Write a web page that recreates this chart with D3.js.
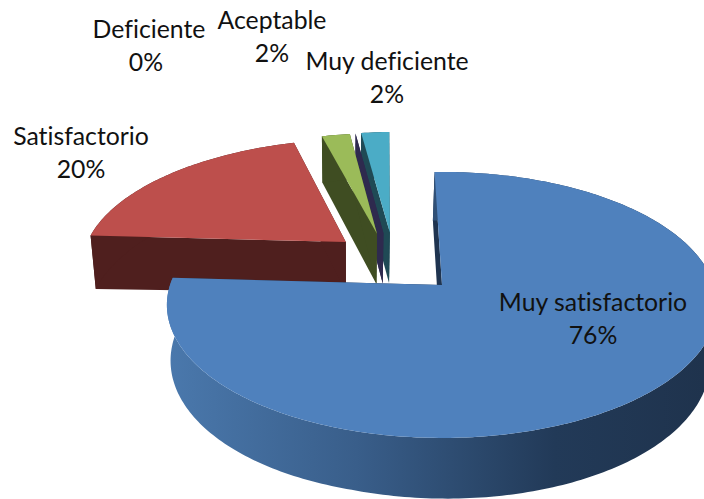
<!DOCTYPE html>
<html>
<head>
<meta charset="utf-8">
<script src="https://cdn.jsdelivr.net/npm/d3@7"></script>
<style>
html,body{margin:0;padding:0;background:#fff;overflow:hidden}
svg{display:block}
text{font-family:Lato,"Open Sans",sans-serif;font-size:24.8px;fill:#111;text-anchor:middle;font-variant-ligatures:none}
</style>
</head>
<body>
<svg id="chart" width="704" height="499"></svg>
<script>
// Data
const categories = ["Muy satisfactorio", "Satisfactorio", "Aceptable", "Deficiente", "Muy deficiente"];
const values = [76.4, 19.6, 2, 0, 2];

// Style and layout
const topColors = ["#4f81bd", "#bd4f4c", "#9bbb59", "#2e2a4e", "#4bacc6"];
const wallColors = ["url(#rim)", "#4f1f1e", "#3f4d22", "#2e2a4e", "#1f4a55"];
const radialWallColors = ["#1f3450", "#4f1f1e", "#3f4d22", "#2e2a4e", "#1f4a55"];
const explodeU = [0, -0.372, -0.254, -0.229, -0.204];
const explodeV = [0, -0.348, -0.42, -0.425, -0.43];
const labelX = [593, 81, 272, 149, 387];
const labelY = [311, 145, 29, 38, 70];
const labelPctX = [593, 81, 272, 146, 387];
const lineGap = 33;
const drawOrder = [4, 3, 2, 1, 0];

const cx = 442, cy = 285, rx = 272, ry = 130, k = 0.15;
const vanishX = 350, shrink = 0.98;
const deg = Math.PI / 180;

const svg = d3.select("#chart");
const grad = svg.append("defs").append("linearGradient")
  .attr("id", "rim").attr("gradientUnits", "userSpaceOnUse")
  .attr("x1", 170).attr("x2", 704).attr("y1", 0).attr("y2", 0);
[[0, "#4a78ac"], [0.35, "#395e8a"], [0.72, "#223a58"], [1, "#1f334d"]].forEach(s =>
  grad.append("stop").attr("offset", s[0]).attr("stop-color", s[1]));

const pie = d3.pie().sort(null).value(d => d)
  .startAngle(-1.8 * deg).endAngle(358.2 * deg);
const arcs = pie(values);

// Ground-plane point -> screen, with perspective
const xScale = d3.scaleLinear().domain([0, 1]).range([cx, cx + rx]);
const yScale = d3.scaleLinear().domain([0, 1]).range([cy, cy + ry]);
function project(u, v) {
  const w = 1 - k * v;
  return [xScale(u / w), yScale(v / w)];
}
function extrude(p) {
  const d = 46 + 0.045 * (p[1] - 137) + 0.012 * Math.abs(p[0] - vanishX);
  return [vanishX + (p[0] - vanishX) * shrink, p[1] + d];
}
const line = d3.line().curve(d3.curveLinear);

drawOrder.forEach(i => {
  const a = arcs[i];
  const ou = explodeU[i], ov = explodeV[i];
  const pt = t => project(ou + Math.sin(t), ov - Math.cos(t));
  const apex = project(ou, ov);
  const steps = Math.max(1, Math.ceil((a.endAngle - a.startAngle) / deg));
  const rimPts = d3.range(steps + 1).map(s =>
    pt(a.startAngle + (a.endAngle - a.startAngle) * s / steps));
  const first = rimPts[0], last = rimPts[rimPts.length - 1];
  const g = svg.append("g");

  // radial walls
  [first, last].forEach(p => {
    g.append("path")
      .attr("d", line([p, apex, extrude(apex), extrude(p)]) + "Z")
      .attr("fill", radialWallColors[i]);
  });
  // outer rim wall
  if (steps > 1) {
    g.append("path")
      .attr("d", line(rimPts.concat(rimPts.map(extrude).reverse())) + "Z")
      .attr("fill", wallColors[i]);
  }
  // top face
  g.append("path")
    .attr("d", line([apex].concat(rimPts)) + "Z")
    .attr("fill", topColors[i]);
});

// Labels
categories.forEach((c, i) => {
  svg.append("text").attr("x", labelX[i]).attr("y", labelY[i]).text(c);
  svg.append("text").attr("x", labelPctX[i]).attr("y", labelY[i] + lineGap).text(Math.round(values[i]) + "%");
});
</script>
</body>
</html>
